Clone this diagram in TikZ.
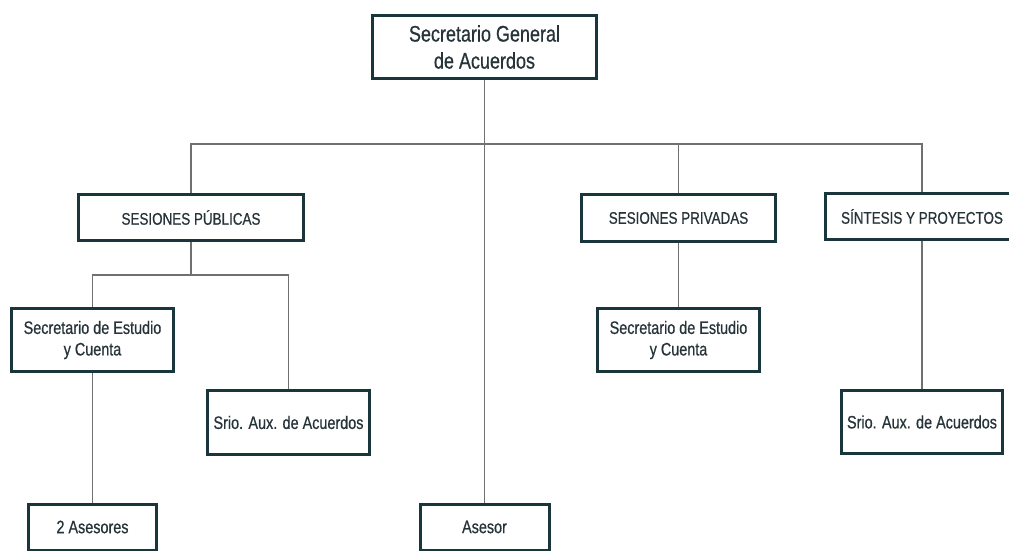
\documentclass[tikz,border=0pt]{standalone}
\usepackage{fontspec}
\setmainfont{Liberation Sans}[FakeStretch=0.8,FakeBold=0.6]
\definecolor{boxline}{HTML}{18363C}
\definecolor{txt}{HTML}{263338}
\definecolor{conn}{HTML}{707070}
\begin{document}
\begin{tikzpicture}[x=1pt,y=-1pt,
  orgbox/.style={draw=boxline, line width=3pt, fill=white, inner sep=0pt, align=center,
    text=txt, font=\fontsize{18}{21.5}\selectfont},
  capbox/.style={orgbox, font=\fontsize{16.8}{20}\selectfont},
  conline/.style={draw=conn, line width=1.1pt}]
\clip (0,0) rectangle (1009,551);
\useasboundingbox (0,0) rectangle (1009,551);
\fill[white] (0,0) rectangle (1009,551);
\coordinate (bus) at (0,144);
\coordinate (sub) at (0,275);
\node[orgbox, minimum width=224, minimum height=63, font=\fontsize{22.5}{27}\selectfont] (sga) at (484.5,47) {Secretario General\\de Acuerdos};
\node[capbox, minimum width=225, minimum height=46] (sp) at (191,217.5) {SESIONES PÚBLICAS};
\node[capbox, minimum width=194, minimum height=47] (spr) at (678.5,218) {SESIONES PRIVADAS};
\node[capbox, minimum width=193, minimum height=46] (sint) at (922,216.5) {SÍNTESIS Y PROYECTOS};
\node[orgbox, minimum width=162, minimum height=63] (sec1) at (92.5,340) {Secretario de Estudio\\y Cuenta};
\node[orgbox, minimum width=162, minimum height=64] (aux1) at (288.5,422.5) {Srio. Aux. de Acuerdos};
\node[orgbox, minimum width=162, minimum height=63] (sec2) at (678.5,340) {Secretario de Estudio\\y Cuenta};
\node[orgbox, minimum width=161, minimum height=63] (aux2) at (922,422) {Srio. Aux. de Acuerdos};
\node[orgbox, minimum width=128, minimum height=46] (ase2) at (92.5,527) {2 Asesores};
\node[orgbox, minimum width=129, minimum height=46] (asesor) at (484.5,527) {Asesor};
\draw[conline] (sga.south) -- (asesor.north);
\draw[conline] (sp.north) |- (sint.north |- bus) -- (sint.north);
\draw[conline] (spr.north) -- (spr.north |- bus);
\draw[conline] (sp.south) -- (sp.south |- sub);
\draw[conline] (sec1.north) |- (aux1.north |- sub) -- (aux1.north);
\draw[conline] (sec1.south) -- (ase2.north);
\draw[conline] (spr.south) -- (sec2.north);
\draw[conline] (sint.south) -- (aux2.north);
\end{tikzpicture}
\end{document}
